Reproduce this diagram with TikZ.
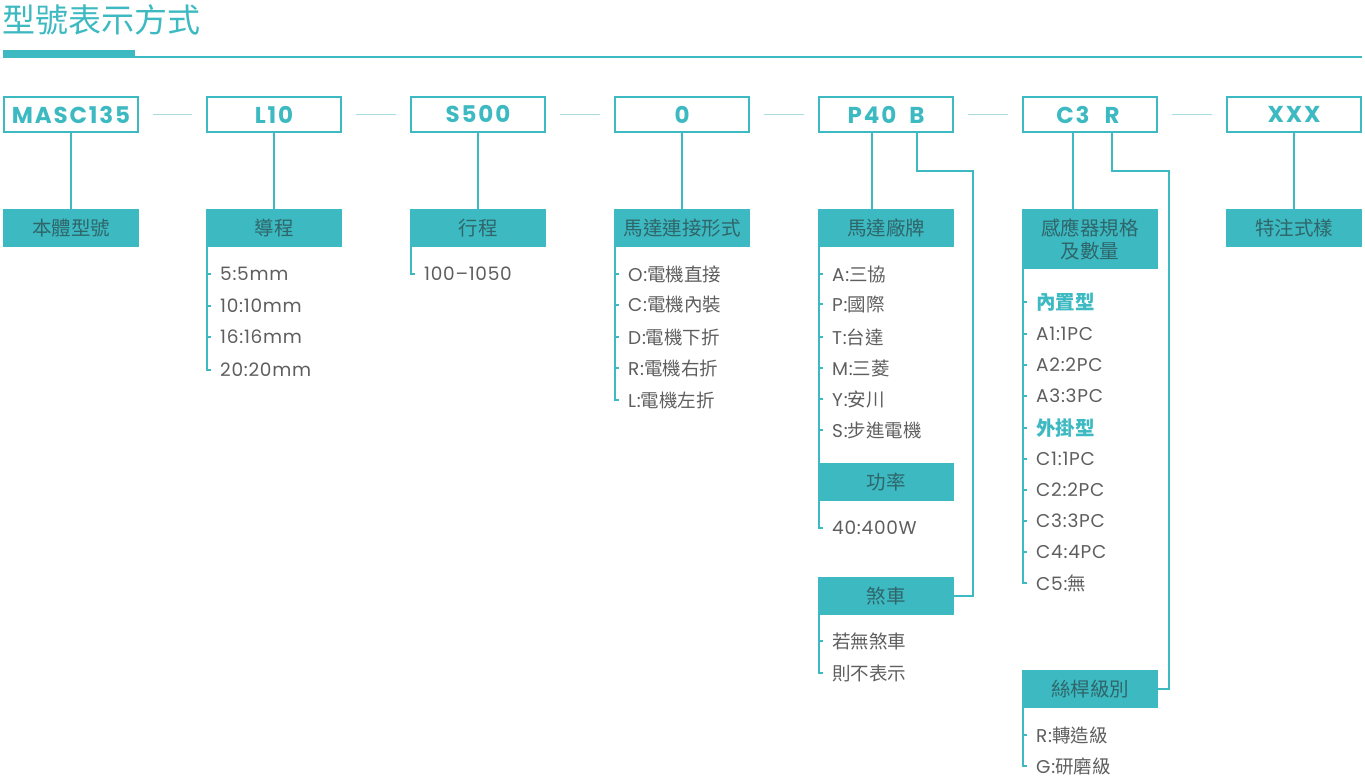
\documentclass[tikz,border=0pt]{standalone}
\usepackage{fontspec}
\setmainfont{Noto Sans CJK TC}
\newfontfamily\lf[Ligatures=TeX, Numbers=Monospaced, LetterSpace=4]{Poppins}
\newfontfamily\cf[Ligatures=TeX, Numbers=Monospaced, LetterSpace=8]{Poppins}
\definecolor{tl}{HTML}{3DB9C1}
\definecolor{ltl}{HTML}{A9DCDF}
\definecolor{gr}{HTML}{5E5E5E}
\definecolor{lbltext}{HTML}{2F666A}
\begin{document}
\begin{tikzpicture}[x=1pt,y=-1pt,
  codebox/.style={draw=tl, line width=1.8pt, minimum width=134pt, minimum height=35pt, inner sep=0pt, outer sep=0pt, anchor=north west},
  codetxt/.style={text=tl, inner sep=0pt, font=\cf\bfseries\fontsize{23}{23}\selectfont},
  lblbox/.style={fill=tl, minimum width=136pt, minimum height=38pt, inner sep=0pt, outer sep=0pt, anchor=north west, text=lbltext, font=\fontsize{19.5}{23}\selectfont, align=center},
  item/.style={anchor=west, inner sep=0pt, text=gr, font=\fontsize{18.5}{18.5}\selectfont},
  head/.style={anchor=west, inner sep=0pt, text=tl, font=\bfseries\fontsize{19.5}{19.5}\selectfont},
  conn/.style={draw=tl, line width=1.5pt},
  dashc/.style={draw=ltl, line width=1.5pt},
]
\useasboundingbox (0,0) rectangle (1365,783);
% title
\node[anchor=west, inner sep=0pt, text=tl, font=\fontsize{33}{33}\selectfont] (title) at (2,20) {型號表示方式};
\fill[tl] (3,50) rectangle (135,58);
\draw[tl, line width=1.8pt] (135,57) -- (1362,57);

% code boxes
\node[codebox] (c1) at (4,97) {};
\node[codetxt] (t1) at (c1.center) {MASC135};
\node[codebox] (c2) at (207,97) {};
\node[codetxt] (t2) at (c2.center) {L10};
\node[codebox] (c3) at (411,97) {};
\node[codetxt] (t3) at (c3.center) {S500};
\node[codebox] (c4) at (615,97) {};
\node[codetxt] (t4) at (c4.center) {0};
\node[codebox] (c5) at (819,97) {};
\node[codetxt] (p40) at (872,115) {P40};
\node[codetxt] (bb) at (917,115) {B};
\node[codebox] (c6) at (1023,97) {};
\node[codetxt] (c3t) at (1073,115) {C3};
\node[codetxt] (rr) at (1112,115) {R};
\node[codebox] (c7) at (1227,97) {};
\node[codetxt] (t7) at (c7.center) {XXX};

\foreach \a/\b in {c1/c2,c2/c3,c3/c4,c4/c5,c5/c6,c6/c7}
  \draw[dashc] ([xshift=15pt]\a.east) -- ([xshift=-15pt]\b.west);

% label boxes
\node[lblbox] (l1) at (3,209) {本體型號};
\node[lblbox] (l2) at (206,209) {導程};
\node[lblbox] (l3) at (410,209) {行程};
\node[lblbox] (l4) at (614,209) {馬達連接形式};
\node[lblbox] (l5) at (818,209) {馬達廠牌};
\node[lblbox, minimum height=60pt] (l6) at (1022,209) {感應器規格\\及數量};
\node[lblbox] (l7) at (1226,209) {特注式樣};
\node[lblbox] (pw) at (818,463) {功率};
\node[lblbox] (bk) at (818,577) {煞車};
\node[lblbox] (sc) at (1022,670) {絲桿級別};

% verticals
\draw[conn] (c1.south) -- (l1.north);
\draw[conn] (c2.south) -- (l2.north);
\draw[conn] (c3.south) -- (l3.north);
\draw[conn] (c4.south) -- (l4.north);
\draw[conn] (p40 |- c5.south) -- (p40 |- l5.north);
\draw[conn] (c3t |- c6.south) -- (c3t |- l6.north);
\draw[conn] (c7.south) -- (l7.north);
\coordinate (bturn) at (973,171);
\coordinate (rturn) at (1169,171);
\draw[conn] (bb |- c5.south) |- (bturn) |- (bk.east);
\draw[conn] (rr |- c6.south) |- (rturn) |- (sc.east);

% L10 list
\node[item] (a1) at (220,274) {\lf 5:5mm};
\node[item] (a2) at (220,306) {\lf 10:10mm};
\node[item] (a3) at (220,337) {\lf 16:16mm};
\node[item] (a4) at (220,370) {\lf 20:20mm};
\foreach \n in {a1,a2,a3}
  \draw[conn] ([xshift=-13pt]\n.west) -- ([xshift=-9pt]\n.west);
\draw[conn] ([xshift=1pt]l2.south west) |- ([xshift=-9pt]a4.west);

% S500
\node[item] (s1) at (424,274) {\lf 100–1050};
\draw[conn] ([xshift=1pt]l3.south west) |- ([xshift=-9pt]s1.west);

% motor connection
\node[item] (m1) at (628,274) {{\lf O:}電機直接};
\node[item] (m2) at (628,305) {{\lf C:}電機內裝};
\node[item] (m3) at (628,337) {{\lf D:}電機下折};
\node[item] (m4) at (628,368) {{\lf R:}電機右折};
\node[item] (m5) at (628,400) {{\lf L:}電機左折};
\foreach \n in {m1,m2,m3,m4}
  \draw[conn] ([xshift=-13pt]\n.west) -- ([xshift=-9pt]\n.west);
\draw[conn] ([xshift=1pt]l4.south west) |- ([xshift=-9pt]m5.west);

% brand
\node[item] (b1) at (832,274) {{\lf A:}三協};
\node[item] (b2) at (832,304) {{\lf P:}國際};
\node[item] (b3) at (832,337) {{\lf T:}台達};
\node[item] (b4) at (832,368) {{\lf M:}三菱};
\node[item] (b5) at (832,399) {{\lf Y:}安川};
\node[item] (b6) at (832,430) {{\lf S:}步進電機};
\foreach \n in {b1,b2,b3,b4,b5,b6}
  \draw[conn] ([xshift=-13pt]\n.west) -- ([xshift=-9pt]\n.west);
\draw[conn] ([xshift=1pt]l5.south west) -- ([xshift=1pt]pw.north west);

% power
\node[item] (w1) at (832,528) {\lf 40:400W};
\draw[conn] ([xshift=1pt]pw.south west) |- ([xshift=-9pt]w1.west);

% brake
\node[item] (k1) at (832,641) {若無煞車};
\node[item] (k2) at (832,673) {則不表示};
\draw[conn] ([xshift=-13pt]k1.west) -- ([xshift=-9pt]k1.west);
\draw[conn] ([xshift=1pt]bk.south west) |- ([xshift=-9pt]k2.west);

% sensor
\node[head] (h1) at (1036,302) {內置型};
\node[item] (e1) at (1036,334) {\lf A1:1PC};
\node[item] (e2) at (1036,365) {\lf A2:2PC};
\node[item] (e3) at (1036,396) {\lf A3:3PC};
\node[head] (h2) at (1036,428) {外掛型};
\node[item] (e4) at (1036,459) {\lf C1:1PC};
\node[item] (e5) at (1036,490) {\lf C2:2PC};
\node[item] (e6) at (1036,521) {\lf C3:3PC};
\node[item] (e7) at (1036,552) {\lf C4:4PC};
\node[item] (e8) at (1036,583) {{\lf C5:}無};
\foreach \n in {h1,e1,e2,e3,h2,e4,e5,e6,e7}
  \draw[conn] ([xshift=-13pt]\n.west) -- ([xshift=-9pt]\n.west);
\draw[conn] ([xshift=1pt]l6.south west) |- ([xshift=-9pt]e8.west);

% screw grade
\node[item] (g1) at (1036,735) {{\lf R:}轉造級};
\node[item] (g2) at (1036,766) {{\lf G:}研磨級};
\draw[conn] ([xshift=-13pt]g1.west) -- ([xshift=-9pt]g1.west);
\draw[conn] ([xshift=1pt]sc.south west) |- ([xshift=-9pt]g2.west);
\end{tikzpicture}
\end{document}
